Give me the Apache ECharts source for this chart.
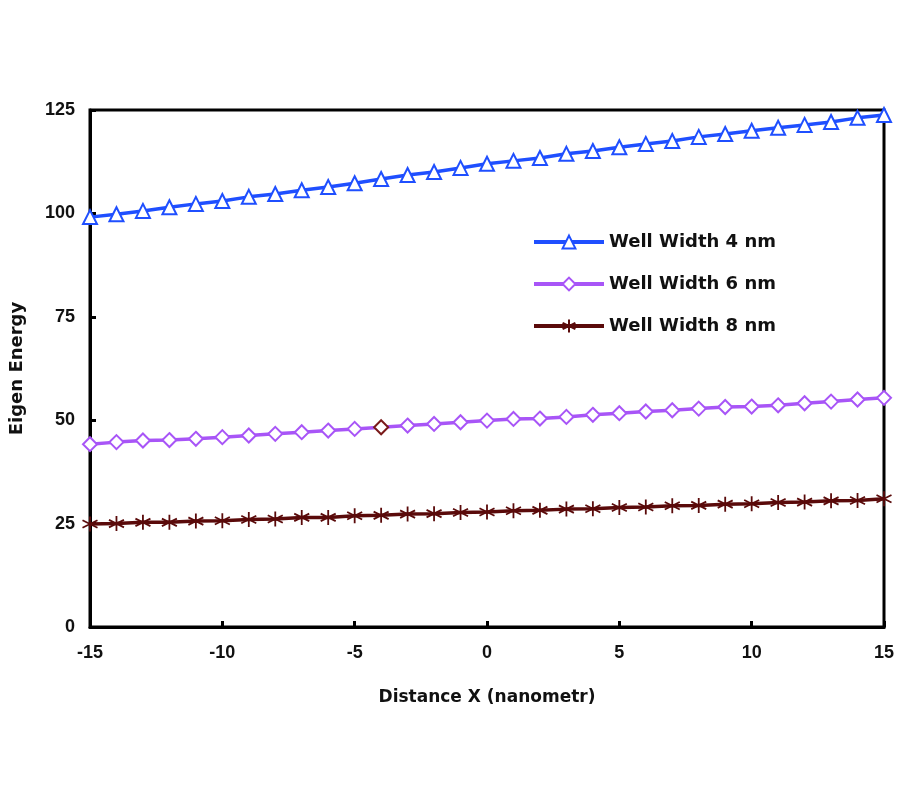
<!DOCTYPE html>
<html>
<head>
<meta charset="utf-8">
<title>Eigen Energy</title>
<script src="https://cdn.jsdelivr.net/npm/echarts@6/dist/echarts.min.js"></script>
<style>
  html, body { margin: 0; padding: 0; background: #fff; }
  #main { width: 900px; height: 800px; }
</style>
</head>
<body>
<div id="main"></div>
<script>
// distance X (nanometr), one point per unit
var distance = [-15, -14, -13, -12, -11, -10, -9, -8, -7, -6, -5, -4, -3, -2, -1, 0,
  1, 2, 3, 4, 5, 6, 7, 8, 9, 10, 11, 12, 13, 14, 15];

var width4nm = [99.1, 99.8, 100.6, 101.5, 102.3, 103.0, 104.0, 104.7, 105.6, 106.4, 107.3,
  108.3, 109.3, 110.0, 111.0, 112.0, 112.7, 113.4, 114.4, 115.1, 116.0, 116.8, 117.5,
  118.5, 119.2, 120.0, 120.7, 121.4, 122.1, 123.1, 123.8];
var width6nm = [44.2, 44.7, 45.1, 45.2, 45.5, 45.9, 46.3, 46.7, 47.1, 47.5, 47.9, 48.3,
  48.7, 49.1, 49.5, 49.9, 50.3, 50.4, 50.8, 51.3, 51.7, 52.1, 52.4, 52.8, 53.2, 53.3,
  53.6, 54.1, 54.5, 55.0, 55.4];
var width8nm = [24.9, 25.0, 25.3, 25.3, 25.6, 25.7, 26.0, 26.1, 26.5, 26.5, 26.9, 27.0,
  27.3, 27.4, 27.7, 27.8, 28.1, 28.2, 28.5, 28.6, 28.9, 29.0, 29.3, 29.4, 29.7, 29.8,
  30.1, 30.2, 30.5, 30.6, 31.0];

var seriesNames = ['Well Width 4 nm', 'Well Width 6 nm', 'Well Width 8 nm'];

function pairs(ys) {
  return distance.map(function (x, i) { return [x, ys[i]]; });
}

var asterisk = 'path://M5,0L5,10M0.7,2.5L9.3,7.5M9.3,2.5L0.7,7.5';
var tickFont = '"Liberation Sans", Arial, sans-serif';
var textFont = '"DejaVu Sans", Verdana, sans-serif';

var chart = echarts.init(document.getElementById('main'));

// the one odd marker at x = -4 on the 6 nm curve
var data6 = pairs(width6nm);
data6[11] = { value: data6[11], itemStyle: { borderColor: '#7a1a1a' } };

var option = {
  backgroundColor: '#fff',
  animation: false,
  grid: {
    left: 90, right: 16, top: 110, bottom: 173,
    show: true, borderColor: '#000', borderWidth: 3
  },
  legend: {
    orient: 'vertical',
    left: 527, top: 228,
    itemWidth: 70, itemHeight: 16, itemGap: 24,
    textStyle: { fontFamily: textFont, fontWeight: 'bold', fontSize: 18, color: '#111' },
    data: seriesNames.map(function (n) {
      return { name: n, lineStyle: { width: 4 } };
    })
  },
  xAxis: {
    type: 'value',
    min: -15, max: 15, interval: 5,
    name: 'Distance X (nanometr)',
    nameLocation: 'middle', nameGap: 62,
    nameTextStyle: { fontFamily: textFont, fontWeight: 'bold', fontSize: 17, color: '#111' },
    axisLine: { onZero: false, lineStyle: { color: '#000', width: 3 } },
    axisTick: { inside: true, length: 6, lineStyle: { color: '#000', width: 3 } },
    axisLabel: { margin: 17, fontFamily: tickFont, fontWeight: 'bold', fontSize: 18, color: '#111' },
    splitLine: { show: false }
  },
  yAxis: {
    type: 'value',
    min: 0, max: 125, interval: 25,
    name: 'Eigen Energy',
    nameLocation: 'middle', nameGap: 64,
    nameTextStyle: { fontFamily: textFont, fontWeight: 'bold', fontSize: 18, color: '#111' },
    axisLine: { onZero: false, lineStyle: { color: '#000', width: 3 } },
    axisTick: { inside: true, length: 6, lineStyle: { color: '#000', width: 3 } },
    axisLabel: { margin: 15, fontFamily: tickFont, fontWeight: 'bold', fontSize: 18, color: '#111' },
    splitLine: { show: false }
  },
  series: [
    {
      name: seriesNames[0],
      type: 'line',
      data: pairs(width4nm),
      symbol: 'triangle', symbolSize: 14,
      color: '#1f4fff',
      lineStyle: { width: 3.5, color: '#1f4fff' },
      itemStyle: { color: '#fff', borderColor: '#1f4fff', borderWidth: 2 }
    },
    {
      name: seriesNames[1],
      type: 'line',
      data: data6,
      symbol: 'diamond', symbolSize: 14,
      color: '#a855f7',
      lineStyle: { width: 3.5, color: '#a855f7' },
      itemStyle: { color: '#fff', borderColor: '#a855f7', borderWidth: 2 }
    },
    {
      name: seriesNames[2],
      type: 'line',
      data: pairs(width8nm),
      symbol: asterisk, symbolSize: 15,
      color: '#5a0a0a',
      lineStyle: { width: 3.5, color: '#5a0a0a' },
      itemStyle: { color: '#5a0a0a', borderColor: '#5a0a0a', borderWidth: 1.8 }
    }
  ]
};

chart.setOption(option);
</script>
</body>
</html>
